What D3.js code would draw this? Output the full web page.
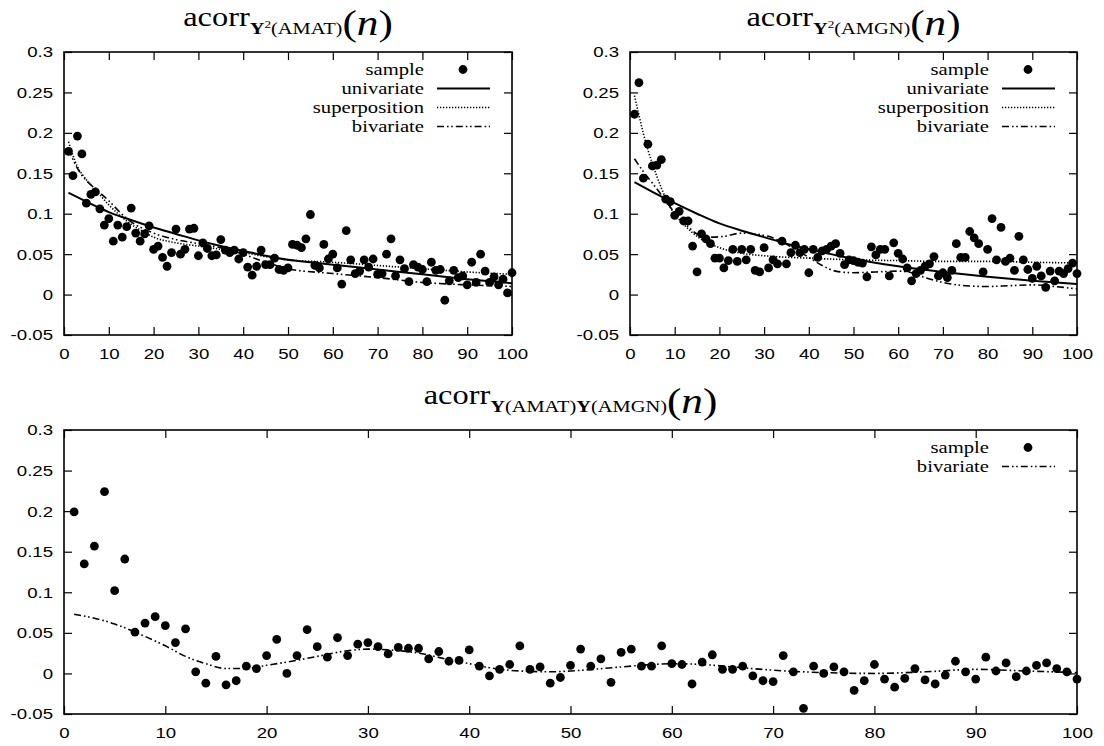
<!DOCTYPE html>
<html>
<head>
<meta charset="utf-8">
<script src="https://cdn.jsdelivr.net/npm/d3@7"></script>
<style>
  body { margin: 0; background: #fff; }
  svg { display: block; }
</style>
</head>
<body>
<svg id="chart" width="1104" height="746"></svg>
<script>
// ---- lags ----
const lags = d3.range(1, 101);

// ---- sample autocorrelations ----
const sampleAmatSq = [
  0.177, 0.147, 0.196, 0.174, 0.113, 0.124, 0.127, 0.106, 0.086, 0.094,
  0.066, 0.086, 0.071, 0.084, 0.107, 0.076, 0.066, 0.075, 0.085, 0.056,
  0.060, 0.046, 0.035, 0.052, 0.081, 0.050, 0.056, 0.081, 0.082, 0.048,
  0.064, 0.057, 0.048, 0.049, 0.068, 0.055, 0.052, 0.055, 0.044, 0.052,
  0.034, 0.024, 0.035, 0.055, 0.037, 0.037, 0.045, 0.031, 0.030, 0.033,
  0.062, 0.061, 0.058, 0.069, 0.099, 0.036, 0.033, 0.062, 0.044, 0.050,
  0.033, 0.013, 0.079, 0.043, 0.026, 0.029, 0.043, 0.034, 0.044, 0.025,
  0.026, 0.050, 0.069, 0.023, 0.043, 0.032, 0.016, 0.037, 0.034, 0.031,
  0.016, 0.040, 0.030, 0.031, -0.007, 0.017, 0.030, 0.021, 0.023, 0.012,
  0.040, 0.015, 0.050, 0.029, 0.015, 0.022, 0.012, 0.019, 0.002, 0.027
];
const sampleAmgnSq = [
  0.223, 0.262, 0.144, 0.186, 0.159, 0.160, 0.167, 0.118, 0.115, 0.098,
  0.103, 0.091, 0.091, 0.060, 0.028, 0.075, 0.069, 0.063, 0.045, 0.045,
  0.033, 0.042, 0.056, 0.041, 0.056, 0.043, 0.056, 0.030, 0.028, 0.058,
  0.033, 0.043, 0.038, 0.066, 0.038, 0.052, 0.061, 0.052, 0.056, 0.027,
  0.056, 0.046, 0.054, 0.056, 0.060, 0.063, 0.051, 0.037, 0.043, 0.042,
  0.040, 0.039, 0.022, 0.059, 0.049, 0.056, 0.056, 0.023, 0.064, 0.051,
  0.044, 0.033, 0.017, 0.026, 0.030, 0.035, 0.038, 0.047, 0.023, 0.027,
  0.021, 0.030, 0.063, 0.046, 0.046, 0.078, 0.070, 0.063, 0.028, 0.056,
  0.094, 0.043, 0.083, 0.041, 0.045, 0.030, 0.072, 0.043, 0.031, 0.020,
  0.035, 0.023, 0.009, 0.029, 0.017, 0.029, 0.026, 0.032, 0.039, 0.026
];
const sampleCross = [
  0.199, 0.135, 0.157, 0.224, 0.102, 0.141, 0.051, 0.062, 0.070, 0.059,
  0.038, 0.055, 0.002, -0.012, 0.021, -0.014, -0.009, 0.009, 0.006, 0.022,
  0.042, 0.000, 0.022, 0.054, 0.033, 0.020, 0.044, 0.022, 0.036, 0.038,
  0.033, 0.024, 0.032, 0.031, 0.031, 0.018, 0.027, 0.015, 0.016, 0.029,
  0.009, -0.003, 0.005, 0.011, 0.034, 0.005, 0.008, -0.012, -0.005, 0.010,
  0.030, 0.009, 0.018, -0.011, 0.026, 0.030, 0.009, 0.009, 0.034, 0.012,
  0.011, -0.013, 0.014, 0.023, 0.005, 0.005, 0.009, -0.003, -0.009, -0.010,
  0.022, 0.002, -0.043, 0.009, 0.000, 0.008, 0.002, -0.021, -0.009, 0.011,
  -0.007, -0.017, -0.006, 0.006, -0.008, -0.013, -0.002, 0.015, 0.002, -0.007,
  0.020, 0.003, 0.013, -0.004, 0.003, 0.010, 0.013, 0.006, 0.002, -0.007
];

// ---- model curves (lag knots and values) ----
const uniAmatLag = [1, 5, 8, 10, 14, 20, 25, 30, 35, 40, 45, 50, 55, 60, 70, 80, 90, 100];
const uniAmatVal = [0.126, 0.115, 0.107, 0.102, 0.094, 0.083, 0.075, 0.067, 0.060, 0.054, 0.048, 0.043, 0.040, 0.037, 0.031, 0.025, 0.019, 0.014];
const supAmatLag = [1, 2, 3, 4, 5, 7, 10, 14, 17, 20, 25, 30, 35, 40, 45, 50, 60, 70, 80, 90, 100];
const supAmatVal = [0.189, 0.172, 0.158, 0.149, 0.142, 0.130, 0.111, 0.091, 0.080, 0.071, 0.064, 0.060, 0.056, 0.052, 0.047, 0.043, 0.040, 0.036, 0.032, 0.028, 0.025];
const bivAmatLag = [1, 3, 5, 7, 10, 13, 15, 20, 25, 30, 35, 40, 45, 50, 60, 70, 80, 90, 100];
const bivAmatVal = [0.180, 0.156, 0.141, 0.131, 0.116, 0.099, 0.090, 0.076, 0.068, 0.063, 0.058, 0.050, 0.040, 0.032, 0.026, 0.021, 0.015, 0.012, 0.010];

const uniAmgnLag = [1, 5, 10, 15, 20, 25, 30, 35, 40, 45, 50, 60, 70, 80, 90, 100];
const uniAmgnVal = [0.139, 0.127, 0.113, 0.100, 0.088, 0.079, 0.071, 0.063, 0.056, 0.050, 0.044, 0.035, 0.028, 0.022, 0.017, 0.013];
const supAmgnLag = [1, 2, 3, 4, 5, 7, 9, 12, 15, 20, 25, 30, 40, 50, 60, 70, 80, 90, 100];
const supAmgnVal = [0.246, 0.222, 0.199, 0.179, 0.162, 0.132, 0.108, 0.087, 0.072, 0.058, 0.051, 0.048, 0.045, 0.043, 0.042, 0.041, 0.041, 0.040, 0.039];
const bivAmgnLag = [1, 3, 5, 8, 10, 13, 15, 18, 21, 25, 28, 31, 34, 37, 40, 43, 46, 50, 55, 60, 63, 66, 70, 75, 80, 85, 90, 95, 100];
const bivAmgnVal = [0.168, 0.152, 0.138, 0.116, 0.101, 0.084, 0.075, 0.071, 0.072, 0.076, 0.075, 0.072, 0.065, 0.056, 0.046, 0.036, 0.029, 0.027, 0.028, 0.029, 0.027, 0.021, 0.015, 0.011, 0.010, 0.011, 0.012, 0.010, 0.007];

const bivCrossLag = [1, 3, 5, 7, 10, 12, 14, 16, 18, 20, 22, 25, 28, 30, 32, 35, 38, 40, 42, 45, 48, 50, 55, 58, 60, 63, 66, 70, 75, 80, 85, 90, 95, 100];
const bivCrossVal = [0.073, 0.068, 0.061, 0.051, 0.034, 0.021, 0.012, 0.006, 0.006, 0.010, 0.014, 0.021, 0.028, 0.030, 0.029, 0.025, 0.017, 0.012, 0.007, 0.003, 0.002, 0.003, 0.008, 0.011, 0.012, 0.011, 0.008, 0.004, 0.001, 0.000, 0.002, 0.005, 0.003, 0.001];

// ---- axis ticks ----
const xTicks = [0, 10, 20, 30, 40, 50, 60, 70, 80, 90, 100];
const yTicks = [-0.05, 0, 0.05, 0.1, 0.15, 0.2, 0.25, 0.3];
const yTickLabels = ["-0.05", "0", "0.05", "0.1", "0.15", "0.2", "0.25", "0.3"];

// ---- series styles ----
const STYLE = {
  univariate:    { width: 2.0, dash: null },
  superposition: { width: 1.6, dash: "1.3,1.7" },
  bivariate:     { width: 1.6, dash: "7,3,1.6,2.6,1.6,3" }
};

const svg = d3.select("#chart");
const SANS = "'Liberation Sans', Arial, sans-serif";
const SERIF = "'Liberation Serif', 'Times New Roman', serif";
const STRETCH = 1.2;

function widen(sel, k) {
  sel.each(function () {
    const len = this.getComputedTextLength();
    d3.select(this).attr("textLength", len * k).attr("lengthAdjust", "spacingAndGlyphs");
  });
}

function drawPanel(cfg) {
  const x = d3.scaleLinear().domain([0, 100]).range([cfg.left, cfg.right]);
  const y = d3.scaleLinear().domain([-0.05, 0.3]).range([cfg.bottom, cfg.top]);
  const g = svg.append("g");

  // inward ticks on all four sides
  const tickLen = 8;
  const axB = g.append("g").attr("transform", `translate(0,${cfg.bottom})`)
    .call(d3.axisBottom(x).tickValues(xTicks).tickSizeInner(-tickLen).tickSizeOuter(0).tickPadding(13));
  const axT = g.append("g").attr("transform", `translate(0,${cfg.top})`)
    .call(d3.axisTop(x).tickValues(xTicks).tickSizeInner(-tickLen).tickSizeOuter(0).tickFormat(""));
  const axL = g.append("g").attr("transform", `translate(${cfg.left},0)`)
    .call(d3.axisLeft(y).tickValues(yTicks).tickSizeInner(-tickLen).tickSizeOuter(0).tickPadding(11)
      .tickFormat((d, i) => yTickLabels[i]));
  const axR = g.append("g").attr("transform", `translate(${cfg.right},0)`)
    .call(d3.axisRight(y).tickValues(yTicks).tickSizeInner(-tickLen).tickSizeOuter(0).tickFormat(""));
  [axB, axT, axL, axR].forEach(a => {
    a.select(".domain").remove();
    a.selectAll(".tick line").attr("stroke", "#000").attr("stroke-width", 1.2);
  });
  [axB, axL].forEach(a => a.selectAll(".tick text")
    .attr("fill", "#000").style("font-family", SANS).style("font-size", "15.5px"));
  axB.selectAll(".tick text").attr("dy", "0.71em");
  widen(axB.selectAll(".tick text"), STRETCH);
  widen(axL.selectAll(".tick text"), STRETCH);

  // frame
  g.append("rect")
    .attr("x", cfg.left).attr("y", cfg.top)
    .attr("width", cfg.right - cfg.left).attr("height", cfg.bottom - cfg.top)
    .attr("fill", "none").attr("stroke", "#000").attr("stroke-width", 1.6);

  // model curves
  const line = d3.line().x(d => x(d[0])).y(d => y(d[1])).curve(d3.curveMonotoneX);
  cfg.curves.forEach(c => {
    const st = STYLE[c.name];
    g.append("path")
      .datum(d3.zip(c.lag, c.val))
      .attr("d", line)
      .attr("fill", "none").attr("stroke", "#000")
      .attr("stroke-width", st.width)
      .attr("stroke-dasharray", st.dash);
  });

  // sample points
  g.append("g").selectAll("circle")
    .data(d3.zip(lags, cfg.sample))
    .join("circle")
    .attr("cx", d => x(d[0])).attr("cy", d => y(d[1]))
    .attr("r", 4.4).attr("fill", "#000");

  // legend
  const lg = g.append("g");
  const entries = ["sample"].concat(cfg.curves.map(c => c.name));
  entries.forEach((name, i) => {
    const ry = cfg.top + 17.5 + i * 19;
    const t = lg.append("text")
      .attr("x", cfg.right - 88).attr("y", ry + 5)
      .attr("text-anchor", "end")
      .style("font-family", SERIF).style("font-size", "16.5px").attr("fill", "#000")
      .text(name);
    widen(t, 1.25);
    if (name === "sample") {
      lg.append("circle").attr("cx", cfg.right - 49).attr("cy", ry).attr("r", 4.4).attr("fill", "#000");
    } else {
      const st = STYLE[name];
      lg.append("line")
        .attr("x1", cfg.right - 75).attr("x2", cfg.right - 22)
        .attr("y1", ry).attr("y2", ry)
        .attr("stroke", "#000").attr("stroke-width", st.width)
        .attr("stroke-dasharray", st.dash);
    }
  });

  // title: acorr_{...}(n), kept as one text chunk so it centres as a whole
  const cx = (cfg.left + cfg.right) / 2;
  const base = cfg.top - 17;
  const tg = svg.append("g").attr("transform", `translate(${cx},${base}) scale(${cfg.titleStretch},1)`);
  const tt = tg.append("text").attr("x", 0).attr("y", 0).attr("text-anchor", "middle")
    .style("font-family", SERIF).attr("fill", "#000");
  let cur = 0;
  const shift = target => { const d = target - cur; cur = target; return d; };
  tt.append("tspan").attr("dy", shift(-9)).style("font-size", "27px").text("acorr");
  cfg.sub.forEach(p => {
    const ts = tt.append("tspan")
      .attr("dy", shift(p.sup ? -7 : -1))
      .style("font-size", p.sup ? "11px" : "17px")
      .text(p.t);
    if (p.bold) ts.style("font-weight", "bold");
  });
  tt.append("tspan").attr("dy", shift(0)).style("font-size", "36px").text("(");
  tt.append("tspan").style("font-size", "36px").style("font-style", "italic").text("n");
  tt.append("tspan").style("font-size", "36px").text(")");
}

drawPanel({
  left: 64, right: 512, top: 52, bottom: 335,
  sample: sampleAmatSq,
  curves: [
    { name: "univariate", lag: uniAmatLag, val: uniAmatVal },
    { name: "superposition", lag: supAmatLag, val: supAmatVal },
    { name: "bivariate", lag: bivAmatLag, val: bivAmatVal }
  ],
  sub: [{ t: "Y", bold: true }, { t: "2", sup: true }, { t: "(AMAT)" }],
  titleStretch: 1.2
});

drawPanel({
  left: 630, right: 1077, top: 52, bottom: 335,
  sample: sampleAmgnSq,
  curves: [
    { name: "univariate", lag: uniAmgnLag, val: uniAmgnVal },
    { name: "superposition", lag: supAmgnLag, val: supAmgnVal },
    { name: "bivariate", lag: bivAmgnLag, val: bivAmgnVal }
  ],
  sub: [{ t: "Y", bold: true }, { t: "2", sup: true }, { t: "(AMGN)" }],
  titleStretch: 1.2
});

drawPanel({
  left: 64, right: 1077, top: 430, bottom: 714,
  sample: sampleCross,
  curves: [
    { name: "bivariate", lag: bivCrossLag, val: bivCrossVal }
  ],
  sub: [{ t: "Y", bold: true }, { t: "(AMAT)" }, { t: "Y", bold: true }, { t: "(AMGN)" }],
  titleStretch: 1.2
});
</script>
</body>
</html>
